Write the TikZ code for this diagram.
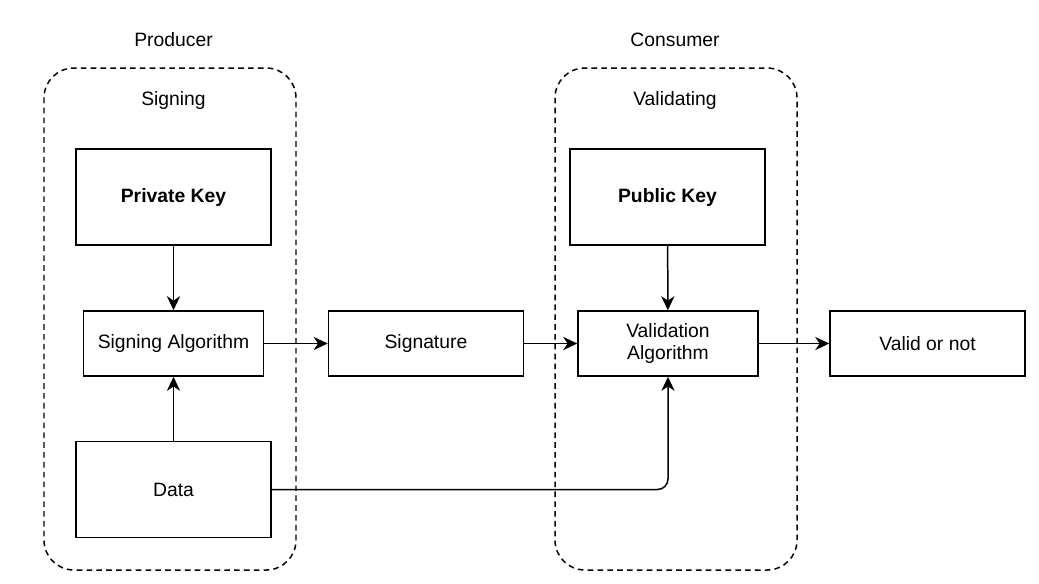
\documentclass[tikz,border=0pt]{standalone}
\usepackage{fontspec}
\setmainfont{Liberation Sans}
\usetikzlibrary{arrows.meta,positioning}

\begin{document}
\begin{tikzpicture}[x=0.02cm,y=-0.02cm]

\def\gap{1.27cm}

\tikzset{
        every node/.style={font=\fontsize{11}{13}\selectfont},
        every path/.style={line width=0.85pt},
        link/.style={draw,-{Stealth[length=8pt,width=7.5pt,inset=2.5pt]}},
        group/.style={draw,dashed,dash pattern=on 3.2pt off 2.4pt,rounded corners=17pt},
        bigbox/.style={draw,minimum width=3.9cm,minimum height=1.92cm},
        keybox/.style={bigbox,font=\fontsize{11}{13}\selectfont\bfseries},
        stepbox/.style={draw,minimum width=3.6cm,minimum height=1.3cm,align=center},
        outbox/.style={stepbox,minimum width=3.9cm}
}

\useasboundingbox (0,0) rectangle (1039,583);

% producer side
\draw[group] (44,68) rectangle (296,570);
\node (producer) at (173.5,40) {Producer};
\node (signing) at (173.5,100) {Signing};
\node[keybox] (private) at (173.5,197) {Private Key};
\node[stepbox] (signalg) at (173.5,343.5) {Signing Algorithm};
\node[bigbox] (data) at (173.5,489.5) {Data};

% in between
\node[outbox] (signature) [right=\gap of signalg] {Signature};

% consumer side
\draw[group] (555,68) rectangle (797,570);
\node (consumer) at (675,40) {Consumer};
\node (validating) at (675,100) {Validating};
\node[keybox] (public) at (667.5,197) {Public Key};
\node[stepbox] (validalg) at (668,343.5) {Validation\\Algorithm};
\node[outbox] (result) at (927.5,343.5) {Valid or not};

\path[link] (private) -- (signalg);
\path[link] (data) -- (signalg);
\path[link] (signalg) -- (signature);
\path[link] (signature) -- (validalg);
\path[link] (public) -- (validalg);
\path[link] (validalg) -- (result);
\path[link,rounded corners=6pt] (data.east) -| (validalg.south);

\end{tikzpicture}
\end{document}
